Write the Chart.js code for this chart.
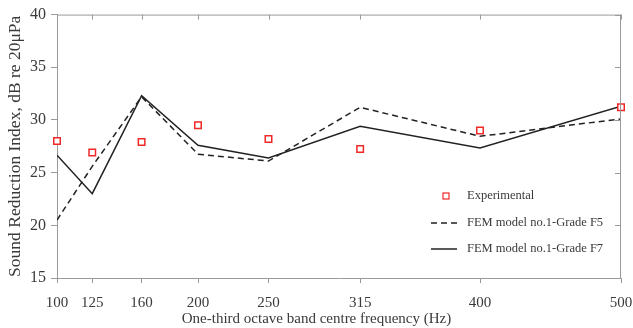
<!DOCTYPE html>
<html>
<head>
<meta charset="utf-8">
<script src="https://cdn.jsdelivr.net/npm/chart.js@4.4.1/dist/chart.umd.min.js"></script>
<style>
  html, body { margin: 0; padding: 0; background: #fff; }
  #wrap { width: 633px; height: 328px; position: relative; }
</style>
</head>
<body>
<div id="wrap"><canvas id="c" width="633" height="328"></canvas></div>
<script>
const frequencies = [100, 125, 160, 200, 250, 315, 400, 500];
const experimental = [28.0, 26.9, 27.9, 29.5, 28.2, 27.25, 29.0, 31.2];
const femF5 = [20.5, 25.6, 32.2, 26.75, 26.1, 31.2, 28.45, 30.1];
const femF7 = [26.65, 23.0, 32.3, 27.6, 26.4, 29.4, 27.35, 31.3];
const xTicks = [100, 125, 160, 200, 250, 315, 400, 500];
const yTicks = [15, 20, 25, 30, 35, 40];
const seriesLabels = ['Experimental', 'FEM model no.1-Grade F5', 'FEM model no.1-Grade F7'];
const xTitle = 'One-third octave band centre frequency (Hz)';
const yTitle = 'Sound Reduction Index, dB re 20μPa';

const toXY = (arr) => frequencies.map((f, i) => ({ x: f, y: arr[i] }));
const axisColor = '#9a9a9a';
const textColor = '#3a3a3a';
const serif = '"Liberation Serif", "Times New Roman", serif';

const framePlugin = {
  id: 'frame',
  afterDatasetsDraw(chart) {
    const { ctx, chartArea: a, scales: { x, y } } = chart;
    ctx.save();
    ctx.strokeStyle = axisColor;
    ctx.lineWidth = 1;
    ctx.beginPath();
    ctx.moveTo(a.left, a.top + 0.5); ctx.lineTo(a.right, a.top + 0.5);
    ctx.moveTo(a.right - 0.5, a.top); ctx.lineTo(a.right - 0.5, a.bottom);
    xTicks.forEach(v => {
      const px = Math.round(x.getPixelForValue(v)) + 0.5;
      ctx.moveTo(px, a.top); ctx.lineTo(px, a.top + 5);
    });
    yTicks.forEach(v => {
      const py = Math.round(y.getPixelForValue(v)) + 0.5;
      ctx.moveTo(a.right, py); ctx.lineTo(a.right - 6, py);
    });
    ctx.stroke();
    ctx.restore();
  }
};

const legendPlugin = {
  id: 'customLegend',
  afterDraw(chart) {
    const { ctx } = chart;
    const ds = chart.data.datasets;
    const rows = [196, 223, 249];
    const symX0 = 431, symX1 = 457, textX = 467;
    ctx.save();
    ctx.font = '12.5px ' + serif;
    ctx.fillStyle = textColor;
    ctx.textBaseline = 'middle';
    ds.forEach((d, i) => {
      const yy = rows[i];
      ctx.strokeStyle = d.borderColor;
      if (d.showLine === false) {
        ctx.lineWidth = 1.2;
        ctx.strokeRect(443, yy - 3, 6, 6);
      } else {
        ctx.lineWidth = d.borderWidth;
        ctx.setLineDash(d.borderDash || []);
        ctx.beginPath();
        ctx.moveTo(symX0, yy); ctx.lineTo(symX1, yy);
        ctx.stroke();
        ctx.setLineDash([]);
      }
      ctx.fillText(d.label, textX, yy);
    });
    ctx.restore();
  }
};

new Chart(document.getElementById('c'), {
  type: 'scatter',
  data: {
    datasets: [
      {
        label: seriesLabels[0],
        data: toXY(experimental),
        showLine: false,
        pointStyle: 'rect',
        pointRadius: 4.6,
        pointBorderWidth: 1.5,
        borderColor: '#f02828',
        backgroundColor: 'rgba(255,255,255,1)',
        clip: false,
        order: 0
      },
      {
        label: seriesLabels[1],
        data: toXY(femF5),
        showLine: true,
        borderColor: '#222',
        borderWidth: 1.5,
        borderDash: [6, 4],
        pointRadius: 0,
        order: 2
      },
      {
        label: seriesLabels[2],
        data: toXY(femF7),
        showLine: true,
        borderColor: '#222',
        borderWidth: 1.5,
        pointRadius: 0,
        order: 1
      }
    ]
  },
  options: {
    responsive: false,
    animation: false,
    devicePixelRatio: 1,
    layout: { padding: { top: 12, right: 0, left: 0, bottom: 0 } },
    plugins: {
      legend: { display: false },
      tooltip: { enabled: false },
      title: {
        display: true, position: 'bottom', text: xTitle, color: textColor,
        font: { family: serif, size: 15, weight: 'normal' }, padding: { top: 2, bottom: 0 }
      }
    },
    scales: {
      x: {
        type: 'linear',
        min: 100, max: 500,
        afterBuildTicks(s) { s.ticks = xTicks.map(v => ({ value: v })); },
        afterFit(s) { s.height = 30; s.paddingLeft = 0; s.paddingRight = 12; },
        grid: { display: true, drawOnChartArea: false, drawTicks: true, tickLength: 5, color: axisColor },
        border: { display: true, color: axisColor },
        ticks: { color: textColor, font: { family: serif, size: 15 }, padding: 11, maxRotation: 0, autoSkip: false },
        title: { display: false }
      },
      y: {
        min: 15, max: 40,
        afterBuildTicks(s) { s.ticks = yTicks.map(v => ({ value: v })); },
        afterFit(s) { s.width = 57; },
        grid: { display: true, drawOnChartArea: false, drawTicks: true, tickLength: 6, color: axisColor },
        border: { display: true, color: axisColor },
        ticks: { color: textColor, font: { family: serif, size: 16 }, padding: 5 },
        title: { display: true, text: yTitle, color: textColor, font: { family: serif, size: 17.5 }, padding: { top: 5, bottom: 0 } }
      }
    }
  },
  plugins: [framePlugin, legendPlugin]
});
</script>
</body>
</html>
